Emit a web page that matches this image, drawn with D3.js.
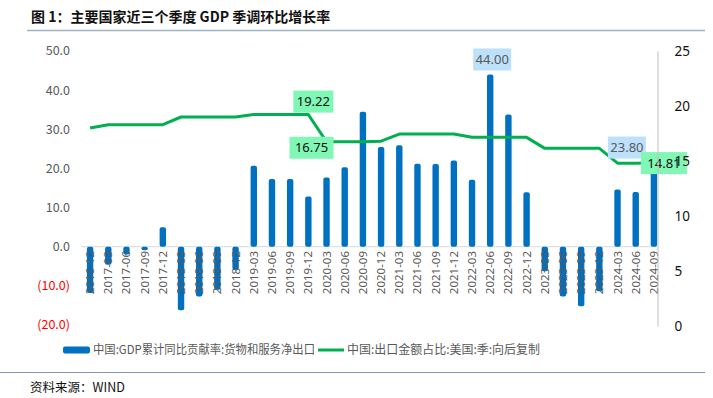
<!DOCTYPE html>
<html>
<head>
<meta charset="utf-8">
<script src="https://cdn.jsdelivr.net/npm/d3@7"></script>
<style>
  body { margin: 0; background: #fff; }
  svg { display: block; font-family: "Noto Sans CJK SC", "Noto Sans", sans-serif; }
</style>
</head>
<body>
<svg id="chart" width="713" height="398"></svg>
<script>
// quarters
var quarters = ["2016-12","2017-03","2017-06","2017-09","2017-12","2018-03","2018-06","2018-09","2018-12",
  "2019-03","2019-06","2019-09","2019-12","2020-03","2020-06","2020-09","2020-12",
  "2021-03","2021-06","2021-09","2021-12","2022-03","2022-06","2022-09","2022-12",
  "2023-03","2023-06","2023-09","2023-12","2024-03","2024-06","2024-09"];

// GDP cumulative contribution of net exports (left axis)
var netExport = [-11.8,-4.6,-2.0,-0.9,5.0,-16.2,-12.7,-11.0,-5.9,
  20.7,17.3,17.3,12.8,17.7,20.3,34.5,25.5,
  25.9,21.2,21.1,22.0,17.1,44.0,33.8,13.9,
  -6.3,-12.7,-15.2,-11.4,14.6,14.0,23.8];

// share of exports to US (right axis)
var usShare = [18.0,18.3,18.3,18.3,18.3,19.0,19.0,19.0,19.0,
  19.22,19.22,19.22,19.22,16.75,16.75,16.75,16.8,
  17.45,17.45,17.45,17.45,17.15,17.15,17.15,17.15,
  16.15,16.15,16.15,16.15,14.8,14.8,14.81];

var leftTicks = [-20,-10,0,10,20,30,40,50];
var rightTicks = [0,5,10,15,20,25];

var svg = d3.select("#chart");

// scales
var x = d3.scaleBand().domain(quarters).range([81, 663]).padding(0);
var yL = d3.scaleLinear().domain([-20, 50]).range([325, 51]);
var yR = d3.scaleLinear().domain([0, 25]).range([326, 51]);
var cx = function(q) { return x(q) + x.bandwidth() / 2; };

// title
svg.append("text")
  .attr("x", 31).attr("y", 22)
  .attr("font-size", 14).attr("font-weight", "bold").attr("fill", "#111")
  .text("图 1：主要国家近三个季度 GDP 季调环比增长率");
svg.append("line")
  .attr("x1", 27).attr("x2", 705).attr("y1", 30.5).attr("y2", 30.5)
  .attr("stroke", "#9fb3c8").attr("stroke-width", 1.5);

// zero line
svg.append("line")
  .attr("x1", 81).attr("x2", 657).attr("y1", yL(0)).attr("y2", yL(0))
  .attr("stroke", "#d9d9d9");

// left axis labels
svg.append("g").selectAll("text")
  .data(leftTicks)
  .enter().append("text")
  .attr("x", 70).attr("y", function(d) { return yL(d); })
  .attr("dy", "0.35em").attr("text-anchor", "end")
  .attr("font-size", 12.5)
  .attr("fill", function(d) { return d < 0 ? "#ff0000" : "#595959"; })
  .text(function(d) { return d < 0 ? "(" + d3.format(".1f")(-d) + ")" : d3.format(".1f")(d); });

// bars
svg.append("g").selectAll("rect")
  .data(netExport)
  .enter().append("rect")
  .attr("x", function(d, i) { return cx(quarters[i]) - 3.2; })
  .attr("width", 6.4)
  .attr("y", function(d) { return yL(Math.max(0, d)); })
  .attr("height", function(d) { return Math.abs(yL(d) - yL(0)); })
  .attr("rx", 2)
  .attr("fill", "#0070c0");

// x labels (drawn over the bars like the original)
svg.append("g").selectAll("text")
  .data(quarters)
  .enter().append("text")
  .attr("transform", function(d) { return "translate(" + (cx(d) + 4) + ",251)rotate(-90)"; })
  .attr("text-anchor", "end")
  .attr("font-size", 11.5)
  .attr("fill", "#595959")
  .attr("font-family", "Noto Sans, sans-serif")
  .text(function(d) { return d; });

// line
var line = d3.line()
  .x(function(d, i) { return cx(quarters[i]); })
  .y(function(d) { return yR(d); });
svg.append("path")
  .datum(usShare)
  .attr("d", line)
  .attr("fill", "none")
  .attr("stroke", "#00b050")
  .attr("stroke-width", 3)
  .attr("stroke-linejoin", "round");

// data labels
function label(cxv, cyv, w, txt, bg, fg) {
  var g = svg.append("g").attr("transform", "translate(" + cxv + "," + cyv + ")");
  g.append("rect").attr("x", -w / 2).attr("y", -11).attr("width", w).attr("height", 22).attr("fill", bg);
  g.append("text").attr("text-anchor", "middle").attr("dy", "0.36em")
    .attr("font-size", 13).attr("fill", fg).attr("font-family", "Noto Sans, sans-serif")
    .text(txt);
}
var i44 = quarters.indexOf("2022-06");
label(cx(quarters[i44]) + 2, yL(netExport[i44]) - 15, 38, d3.format(".2f")(netExport[i44]), "#bde0fb", "#595959");
var iLast = quarters.length - 1;
label(cx(quarters[iLast]) - 27, yL(netExport[iLast]) - 6, 38, d3.format(".2f")(netExport[iLast]), "#bde0fb", "#595959");
var i1912 = quarters.indexOf("2019-12");
label(cx(quarters[i1912]) + 5, yR(usShare[i1912]) - 13, 40, d3.format(".2f")(usShare[i1912]), "#80f7b4", "#111");
var i2003 = quarters.indexOf("2020-03");
label(cx(quarters[i2003]) - 15, yR(usShare[i2003]) + 6, 44, d3.format(".2f")(usShare[i2003]), "#80f7b4", "#111");
label(cx(quarters[iLast]) + 10, yR(usShare[iLast]) + 0, 46, d3.format(".2f")(usShare[iLast]), "#80f7b4", "#111");

// right axis (on top, its "15" shows through the last label as in the original)
var rightAxis = svg.append("g")
  .attr("transform", "translate(657.5,0)")
  .call(d3.axisRight(yR).tickValues(rightTicks).tickSize(0).tickPadding(17));
rightAxis.select(".domain").attr("stroke", "#bfbfbf");
rightAxis.selectAll("text").attr("font-size", 13.5).attr("fill", "#111")
  .attr("font-family", "Noto Sans, sans-serif");

// legend
var lg = svg.append("g").attr("transform", "translate(0,350)");
lg.append("rect").attr("x", 63).attr("y", -3.5).attr("width", 27).attr("height", 7).attr("rx", 2).attr("fill", "#0070c0");
lg.append("text").attr("x", 93).attr("dy", "0.36em").attr("font-size", 12).attr("fill", "#595959")
  .attr("textLength", 222).attr("lengthAdjust", "spacingAndGlyphs")
  .text("中国:GDP累计同比贡献率:货物和服务净出口");
lg.append("line").attr("x1", 318).attr("x2", 344).attr("y1", 0).attr("y2", 0)
  .attr("stroke", "#00b050").attr("stroke-width", 3);
lg.append("text").attr("x", 347).attr("dy", "0.36em").attr("font-size", 12).attr("fill", "#595959")
  .attr("textLength", 193).attr("lengthAdjust", "spacingAndGlyphs")
  .text("中国:出口金额占比:美国:季:向后复制");

// source
svg.append("line")
  .attr("x1", 0).attr("x2", 705).attr("y1", 372.5).attr("y2", 372.5)
  .attr("stroke", "#8496b0").attr("stroke-width", 1.2);
svg.append("text")
  .attr("x", 30).attr("y", 392)
  .attr("font-size", 12.5).attr("fill", "#111")
  .text("资料来源：WIND");
</script>
</body>
</html>
